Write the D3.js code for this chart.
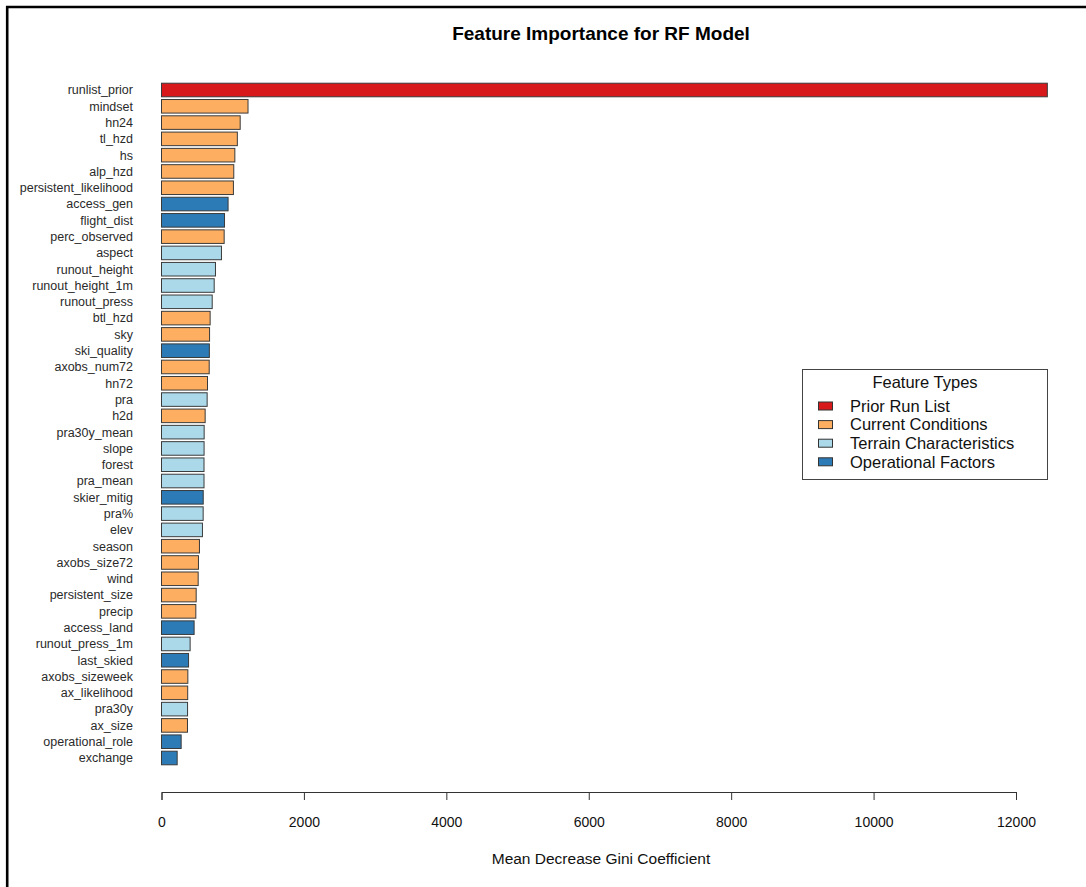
<!DOCTYPE html>
<html>
<head>
<meta charset="utf-8">
<script src="https://cdn.jsdelivr.net/npm/d3@7"></script>
<style>
    body { margin: 0; background: #fff; }
    svg { font-family: "Liberation Sans", Arial, sans-serif; }
</style>
</head>
<body>
<div id="chart"></div>
<script>
var features = ["runlist_prior", "mindset", "hn24", "tl_hzd", "hs", "alp_hzd", "persistent_likelihood",
    "access_gen", "flight_dist", "perc_observed", "aspect", "runout_height", "runout_height_1m",
    "runout_press", "btl_hzd", "sky", "ski_quality", "axobs_num72", "hn72", "pra", "h2d",
    "pra30y_mean", "slope", "forest", "pra_mean", "skier_mitig", "pra%", "elev", "season",
    "axobs_size72", "wind", "persistent_size", "precip", "access_land", "runout_press_1m",
    "last_skied", "axobs_sizeweek", "ax_likelihood", "pra30y", "ax_size", "operational_role", "exchange"];

var importance = [12440, 1215, 1105, 1065, 1030, 1015, 1010,
    935, 885, 880, 842, 758, 740,
    712, 683, 675, 672, 670, 646, 641, 613,
    599, 598, 597, 597, 586, 585, 575, 533,
    519, 515, 487, 482, 458, 402,
    380, 370, 368, 366, 365, 276, 220];

// 0 prior run list, 1 current conditions, 2 terrain, 3 operational
var featureType = [0, 1, 1, 1, 1, 1, 1,
    3, 3, 1, 2, 2, 2,
    2, 1, 1, 3, 1, 1, 2, 1,
    2, 2, 2, 2, 3, 2, 2, 1,
    1, 1, 1, 1, 3, 2,
    3, 1, 1, 2, 1, 3, 3];

var typeLabels = ["Prior Run List", "Current Conditions", "Terrain Characteristics", "Operational Factors"];
var typeColors = ["#d7191c", "#fdae61", "#abd9e9", "#2c7bb6"];
var xTicks = [0, 2000, 4000, 6000, 8000, 10000, 12000];

var WIDTH = 1086, HEIGHT = 887;

var svg = d3.select("#chart").append("svg")
    .attr("width", WIDTH)
    .attr("height", HEIGHT);

// frame (only top and left edges show in the original)
svg.append("path")
    .attr("d", "M7.2,887V7H1086")
    .attr("fill", "none")
    .attr("stroke", "#000")
    .attr("stroke-width", 2.6);

var x = d3.scaleLinear().domain([0, 12000]).range([161.5, 1016]);

var step = 668 / 41;
var y = d3.scaleBand()
    .domain(features)
    .range([90 - step / 2, 758 + step / 2])
    .paddingInner(1 / 6)
    .paddingOuter(1 / 12);

svg.append("text")
    .attr("x", 601)
    .attr("y", 40)
    .attr("text-anchor", "middle")
    .attr("font-size", "19px")
    .attr("font-weight", "bold")
    .text("Feature Importance for RF Model");

var bars = svg.append("g").attr("id", "bars");

bars.selectAll("rect")
    .data(features)
    .enter().append("rect")
    .attr("x", x(0))
    .attr("y", function (d) { return y(d); })
    .attr("width", function (d, i) { return x(importance[i]) - x(0); })
    .attr("height", y.bandwidth())
    .attr("fill", function (d, i) { return typeColors[featureType[i]]; })
    .attr("stroke", "#3a3a3a")
    .attr("stroke-width", 1);

bars.selectAll("text")
    .data(features)
    .enter().append("text")
    .attr("x", 133)
    .attr("y", function (d) { return y(d) + y.bandwidth() / 2; })
    .attr("dy", ".35em")
    .attr("text-anchor", "end")
    .attr("font-size", "12.5px")
    .attr("fill", "#2a2a2a")
    .text(function (d) { return d; });

var xAxis = svg.append("g")
    .attr("transform", "translate(0,792)")
    .call(d3.axisBottom(x).tickValues(xTicks).tickSize(8).tickPadding(17).tickFormat(d3.format("d")));

xAxis.select(".domain").attr("stroke", "#333");
xAxis.selectAll(".tick line").attr("stroke", "#333");
xAxis.selectAll(".tick text")
    .attr("font-size", "14px")
    .attr("font-family", "Liberation Sans, Arial, sans-serif")
    .attr("fill", "#111");

svg.append("text")
    .attr("x", 601)
    .attr("y", 864)
    .attr("text-anchor", "middle")
    .attr("font-size", "15.5px")
    .attr("fill", "#111")
    .text("Mean Decrease Gini Coefficient");

// legend
var legend = svg.append("g").attr("id", "legend");

legend.append("rect")
    .attr("x", 802.5)
    .attr("y", 369.5)
    .attr("width", 245)
    .attr("height", 110)
    .attr("fill", "#fff")
    .attr("stroke", "#444");

legend.append("text")
    .attr("x", 925)
    .attr("y", 388)
    .attr("text-anchor", "middle")
    .attr("font-size", "16.5px")
    .attr("fill", "#111")
    .text("Feature Types");

var items = legend.selectAll("g.item")
    .data(typeLabels)
    .enter().append("g")
    .attr("class", "item")
    .attr("transform", function (d, i) { return "translate(0," + (406 + i * 18.6) + ")"; });

items.append("rect")
    .attr("x", 818.5)
    .attr("y", -4)
    .attr("width", 14)
    .attr("height", 8)
    .attr("fill", function (d, i) { return typeColors[i]; })
    .attr("stroke", "#333");

items.append("text")
    .attr("x", 850)
    .attr("y", 0)
    .attr("dy", ".35em")
    .attr("font-size", "16.5px")
    .attr("fill", "#111")
    .text(function (d) { return d; });
</script>
</body>
</html>
